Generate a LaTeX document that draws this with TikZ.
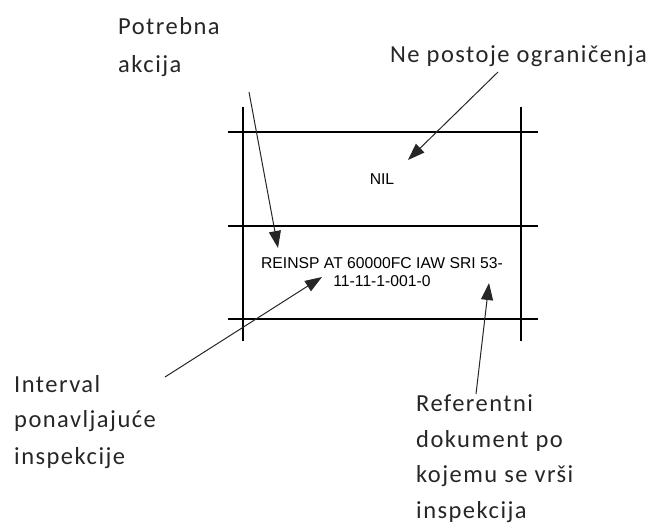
\documentclass[tikz,border=0pt]{standalone}
\usepackage{fontspec}
\setmainfont{Carlito}[LetterSpace=6]
\newfontfamily\arialfont{Liberation Sans}
\usetikzlibrary{arrows.meta}
\begin{document}
\begin{tikzpicture}[x=1pt,y=-1pt,
  gridline/.style={draw=black,line width=1.1pt},
  callout/.style={draw=black!85,line width=1pt,-{Triangle[length=17pt,width=12pt]}},
  label/.style={anchor=base west,inner sep=0pt,align=left,text=black!85,
    font=\fontsize{24.5}{36}\selectfont},
  cell/.style={inner sep=0pt,anchor=base,align=center,
    font=\arialfont\fontsize{15.7}{18}\selectfont}]
\useasboundingbox (0,0) rectangle (659,529);
% grid
\coordinate (h1l) at (228,132); \coordinate (h1r) at (538,132);
\coordinate (h2l) at (228,226); \coordinate (h2r) at (538,226);
\coordinate (h3l) at (228,319); \coordinate (h3r) at (538,319);
\coordinate (v1t) at (243,107); \coordinate (v1b) at (243,341);
\coordinate (v2t) at (521,107); \coordinate (v2b) at (521,341);
\draw[gridline] (h1l) -- (h1r);
\draw[gridline] (h2l) -- (h2r);
\draw[gridline] (h3l) -- (h3r);
\draw[gridline] (v1t) -- (v1b);
\draw[gridline] (v2t) -- (v2b);
% cell texts (base anchor = last line's baseline)
\node[cell] (nil) at (382,185) {NIL};
\node[cell] (reinsp) at (382,287) {REINSP AT 60000FC IAW SRI 53-\\11-11-1-001-0};
% labels
\node[label,font=\fontsize{24.5}{38}\selectfont] (akcija) at (118,73) {Potrebna\\akcija};
\node[label] (ogran) at (390,63) {Ne postoje ograničenja};
\node[label] (interval) at (14,464) {Interval\\ponavljajuće\\inspekcije};
\node[label,font=\fontsize{24.5}{35.5}\selectfont] (ref) at (416,518) {Referentni\\dokument po\\kojemu se vrši\\inspekcija};
% arrows
\coordinate (a1s) at (249,92);  \coordinate (a1e) at (278,248);
\coordinate (a2s) at (498,72);  \coordinate (a2e) at (408,160);
\coordinate (a3s) at (165,377); \coordinate (a3e) at (322,277);
\coordinate (a4s) at (476,394); \coordinate (a4e) at (489,283);
\draw[callout] (a1s) -- (a1e);
\draw[callout] (a2s) -- (a2e);
\draw[callout] (a3s) -- (a3e);
\draw[callout] (a4s) -- (a4e);
\end{tikzpicture}
\end{document}
